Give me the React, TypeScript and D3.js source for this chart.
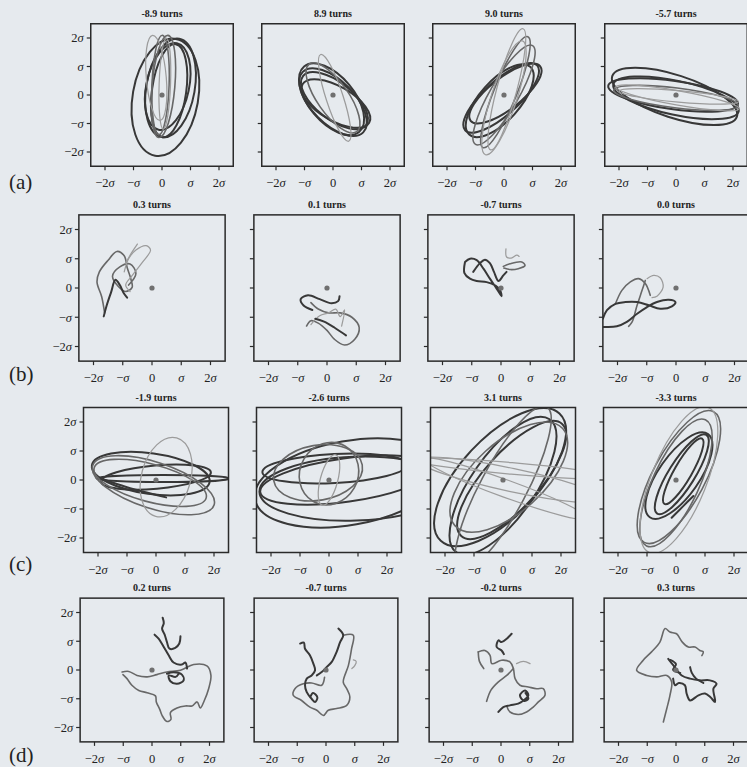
import React from "react";
import * as d3 from "d3";

// ---------- data ----------
const titles = [
  "-8.9 turns", "8.9 turns", "9.0 turns", "-5.7 turns",
  "0.3 turns", "0.1 turns", "-0.7 turns", "0.0 turns",
  "-1.9 turns", "-2.6 turns", "3.1 turns", "-3.3 turns",
  "0.2 turns", "-0.7 turns", "-0.2 turns", "0.3 turns",
];
const rowLabels = ["(a)", "(b)", "(c)", "(d)"];
const tickValues = [-2, -1, 0, 1, 2];
const tickPrefix = ["\u22122", "\u2212", "0", "", "2"];
const tickSigma = [true, true, false, true, true];

// ellipses: [cx, cy, rx, ry, angleDeg, shade]
type Ell = [number, number, number, number, number, string];
const ellA1: Ell[] = [
  [0.12, -0.08, 2.08, 1.15, 80, "d"],
  [0.3, 0.25, 1.75, 0.85, 80, "d"],
  [0.25, 0.15, 1.65, 0.6, 82, "d"],
  [0.2, 0.3, 1.55, 0.75, 78, "d"],
  [0.05, 0.3, 1.8, 0.4, 85, "m"],
  [-0.05, 0.35, 1.75, 0.3, 88, "m"],
  [-0.2, 0.6, 1.5, 0.35, 95, "l"],
  [0.1, 0.4, 1.6, 0.2, 88, "l"],
];
const ellA2: Ell[] = [
  [0, -0.25, 1.5, 0.75, -45, "d"],
  [0.05, -0.2, 1.4, 0.65, -38, "d"],
  [0.1, -0.3, 1.35, 0.6, -30, "d"],
  [-0.05, -0.15, 1.5, 0.8, -50, "d"],
  [0, -0.1, 1.45, 0.55, -55, "m"],
  [0.06, -0.1, 1.6, 0.3, -72, "l"],
];
const ellA3: Ell[] = [
  [-0.1, -0.1, 1.7, 0.6, 42, "d"],
  [0.05, 0.05, 1.55, 0.55, 38, "d"],
  [-0.15, -0.2, 1.6, 0.7, 48, "d"],
  [0, 0, 2.0, 0.5, 60, "m"],
  [0.05, 0.1, 2.1, 0.4, 68, "m"],
  [0.1, 0.2, 2.2, 0.35, 75, "l"],
  [0, -0.1, 2.1, 0.45, 72, "l"],
];
const ellA4: Ell[] = [
  [-0.05, -0.05, 2.3, 0.75, -18, "d"],
  [0, -0.1, 2.25, 0.6, -12, "d"],
  [-0.1, 0, 2.3, 0.5, -8, "d"],
  [0, -0.1, 2.2, 0.35, -7, "m"],
  [0.1, -0.05, 2.1, 0.2, -5, "l"],
  [0.05, -0.1, 2.2, 0.25, -10, "l"],
];
const ellC1: Ell[] = [
  [-0.18, 0.22, 2.05, 0.7, -8, "d"],
  [0.25, 0.05, 2.3, 0.12, 0, "d"],
  [0, 0.1, 1.9, 0.4, 5, "d"],
  [-0.09, -0.18, 2.2, 0.8, -18, "m"],
  [-0.2, -0.1, 2.0, 0.65, -15, "m"],
  [0.35, 0.1, 1.4, 0.85, 75, "l"],
];
const ellC2: Ell[] = [
  [0.7, -0.1, 3.3, 1.45, 10, "d"],
  [0.9, -0.3, 3.3, 1.1, 2, "d"],
  [0.6, 0, 3.0, 0.75, 8, "d"],
  [0.2, 0.4, 2.5, 0.5, 3, "d"],
  [-0.38, 0.25, 1.55, 0.95, 10, "m"],
  [0, 0.22, 1.1, 1.0, 60, "m"],
  [0, 0, 0.9, 0.3, 75, "l"],
];
const ellC3: Ell[] = [
  [-0.1, 0.1, 3.0, 1.35, 47, "d"],
  [0.3, 0, 2.6, 0.95, 48, "d"],
  [0, -0.2, 2.8, 1.1, 55, "d"],
  [0.2, 0.1, 2.5, 1.2, 42, "m"],
  [0, -0.3, 3.2, 0.8, 62, "m"],
  [0.3, 0, 3.3, 0.4, -12, "l"],
  [0.1, -0.3, 3.0, 0.3, -20, "l"],
  [0.3, 0.4, 3.5, 0.2, -5, "l"],
];
const ellC4: Ell[] = [
  [0.1, 0.15, 1.75, 0.7, 55, "d"],
  [0.2, 0.2, 1.6, 0.45, 58, "d"],
  [0.25, 0.3, 1.3, 0.3, 60, "d"],
  [0.1, 0.1, 2.55, 0.9, 62, "m"],
  [0, -0.1, 2.4, 0.8, 65, "m"],
  [0.1, 0, 2.7, 0.95, 68, "l"],
];

// paths: { s: shade, p: points in sigma units }
type Trace = { s: string; p: [number, number][] };
const pathB1: Trace[] = [
  { s: "m", p: [[-1.62, -0.85], [-1.72, -0.3], [-1.88, 0.2], [-1.8, 0.55], [-1.5, 0.95], [-1.2, 1.25], [-0.95, 1.1], [-0.85, 0.7], [-0.72, 0.3], [-0.68, 0.02], [-0.9, -0.12], [-1.15, 0.05], [-1.35, 0.4], [-1.1, 0.72], [-0.75, 0.82], [-0.55, 0.5], [-0.8, 0.1]] },
  { s: "l", p: [[-0.95, 0.55], [-0.8, 1.0], [-0.55, 1.3], [-0.2, 1.45], [-0.05, 1.3], [-0.35, 0.85], [-0.7, 0.4], [-0.9, 0.1], [-0.75, -0.12]] },
  { s: "l", p: [[-0.9, 0.85], [-0.7, 1.2], [-0.5, 1.5]] },
  { s: "d", p: [[-1.65, -0.97], [-1.55, -0.6], [-1.4, -0.15], [-1.25, 0.28], [-1.1, 0.1], [-0.98, -0.15], [-0.85, -0.33]] },
];
const pathB2: Trace[] = [
  { s: "m", p: [[-0.55, -0.5], [-0.3, -0.72], [0.05, -0.85], [0.45, -0.85], [0.85, -1.0], [1.1, -1.35], [0.95, -1.75], [0.6, -1.95], [0.25, -1.75], [0, -1.45], [-0.3, -1.2], [-0.55, -1.12], [-0.7, -1.3]] },
  { s: "l", p: [[-0.55, -1.25], [-0.25, -0.95], [0.05, -0.85], [0.3, -0.72], [0.45, -0.98], [0.6, -0.75], [0.5, -1.3]] },
  { s: "d", p: [[0.43, -0.28], [0.38, -0.45], [0.15, -0.52], [-0.25, -0.38], [-0.65, -0.25], [-0.9, -0.38], [-0.8, -0.6], [-0.5, -0.75]] },
  { s: "d", p: [[-0.4, -1.05], [-0.1, -1.15], [0.25, -1.35], [0.65, -1.62]] },
];
const pathB3: Trace[] = [
  { s: "l", p: [[0.17, 1.34], [0.19, 1.06], [0.35, 1.02], [0.54, 1.12], [0.62, 1.08]] },
  { s: "m", p: [[0.08, 0.74], [0.31, 0.83], [0.71, 0.89], [0.82, 0.77], [0.59, 0.66], [0.31, 0.63], [0.1, 0.68]] },
  { s: "d", p: [[-1.23, 0.89], [-1.06, 1.0], [-0.83, 0.95], [-0.6, 0.66], [-0.38, 0.32], [-0.15, -0.02], [0.02, -0.28], [-0.03, -0.08], [-0.2, 0.09], [-0.49, 0.2], [-0.83, 0.24], [-1.06, 0.32], [-1.25, 0.51], [-1.23, 0.89]] },
  { s: "d", p: [[-0.95, 0.55], [-0.72, 0.85], [-0.55, 0.97], [-0.38, 0.85], [-0.24, 0.55], [-0.09, 0.24], [0.08, 0.43], [0.19, 0.55]] },
];
const pathB4: Trace[] = [
  { s: "l", p: [[-0.99, 0.32], [-0.76, 0.43], [-0.54, 0.35], [-0.44, 0.03], [-0.65, -0.28], [-0.82, -0.33]] },
  { s: "m", p: [[-2.07, -0.54], [-1.85, -0.08], [-1.56, 0.21], [-1.28, 0.32], [-1.05, 0.15], [-0.88, -0.25]] },
  { s: "m", p: [[-1.05, 0.26], [-1.16, -0.08], [-1.33, -0.59], [-1.5, -1.16], [-1.62, -1.31]] },
  { s: "d", p: [[-2.47, -1.33], [-2.02, -1.31], [-1.68, -1.16], [-1.33, -0.88], [-0.99, -0.65], [-0.65, -0.48], [-0.25, -0.4], [-0.02, -0.48], [-0.14, -0.63], [-0.54, -0.71], [-0.93, -0.59], [-1.33, -0.48], [-1.73, -0.48], [-2.07, -0.54], [-2.36, -0.76], [-2.5, -1.05]] },
];
const pathC1: Trace[] = [{ s: "d", p: [[-1.9, 0.05], [-1.0, -0.25], [0.35, -0.6]] }];
const pathC4: Trace[] = [{ s: "d", p: [[-0.15, -1.3], [0.25, -0.9], [0.6, -0.55]] }];
const pathD1: Trace[] = [
  { s: "m", p: [[-1.04, -0.07], [-0.81, -0.05], [-0.52, -0.19], [-0.17, -0.24], [0.17, -0.16], [0.52, -0.07], [0.99, -0.01], [1.45, 0.19], [1.91, 0.14], [2.05, -0.19], [1.97, -0.65], [1.82, -1.06], [1.68, -1.32], [1.57, -1.11], [1.39, -1.25], [1.16, -1.25], [0.87, -1.32], [0.64, -1.48], [0.66, -1.72], [0.52, -1.79], [0.35, -1.58], [0.27, -1.37], [0.15, -1.11], [0.12, -0.9], [-0.17, -0.79], [-0.46, -0.71], [-0.7, -0.53], [-0.87, -0.3], [-1.01, -0.16]] },
  { s: "d", p: [[0.99, 1.17], [0.95, 0.92], [0.81, 0.77], [0.61, 0.74], [0.52, 0.97], [0.44, 1.23], [0.35, 1.44], [0.41, 1.63], [0.37, 1.82]] },
  { s: "d", p: [[0.09, 1.23], [0.23, 1.09], [0.41, 0.8], [0.58, 0.51], [0.75, 0.26], [1.04, 0.19], [1.16, 0.26], [1.22, 0.05]] },
  { s: "d", p: [[0.52, -0.13], [0.75, -0.08], [1.04, -0.16], [1.1, -0.36], [0.87, -0.48], [0.64, -0.39], [0.58, -0.19], [0.82, -0.24], [0.93, -0.13]] },
];
const pathD2: Trace[] = [
  { s: "l", p: [[0.95, 0.35], [1.05, 0.3], [1.0, 0.15], [0.9, 0.05]] },
  { s: "m", p: [[0.6, 1.21], [0.95, 1.21], [0.89, 0.74], [0.78, 0.16], [0.6, -0.42], [0.72, -0.65], [0.83, -0.94], [0.72, -1.23], [0.37, -1.34], [0.08, -1.4], [-0.09, -1.58], [-0.32, -1.4], [-0.56, -1.29], [-0.85, -1.06], [-1.14, -0.88], [-1.08, -0.65], [-0.79, -0.48], [-0.5, -0.45], [-0.15, -0.53], [-0.05, -0.25]] },
  { s: "d", p: [[-0.9, 0.92], [-0.77, 0.95], [-0.73, 0.74], [-0.56, 0.51], [-0.44, 0.22], [-0.38, -0.01], [-0.5, -0.19], [-0.67, -0.3], [-0.73, -0.53], [-0.67, -0.77], [-0.5, -1.0], [-0.38, -1.11], [-0.3, -0.95], [-0.45, -0.8], [-0.55, -0.95]] },
  { s: "d", p: [[0.43, 1.44], [0.6, 1.21], [0.49, 0.97], [0.37, 0.63], [0.2, 0.28], [0.02, 0.1], [-0.15, -0.07], [-0.32, -0.19]] },
];
const pathD3: Trace[] = [
  { s: "l", p: [[0.54, 0.22], [0.78, 0.3], [1.01, 0.22]] },
  { s: "m", p: [[-0.79, 0.63], [-0.56, 0.68], [-0.38, 0.51], [-0.32, 0.22], [0.02, 0.34], [0.31, 0.28], [0.43, 0.05], [0.49, -0.3], [0.66, -0.53], [0.95, -0.59], [1.24, -0.65], [1.47, -0.65], [1.53, -0.88], [1.3, -1.11], [1.12, -1.29], [0.89, -1.46], [0.6, -1.55], [0.31, -1.46], [0.2, -1.25]] },
  { s: "m", p: [[-0.5, -1.09], [-0.35, -0.7], [-0.1, -0.42], [0.2, -0.19], [0.43, 0.05]] },
  { s: "m", p: [[-0.79, 0.63], [-0.75, 0.3], [-0.6, 0.05]] },
  { s: "d", p: [[0.37, 1.26], [0.2, 1.09], [0.02, 0.97], [-0.09, 1.03], [-0.15, 0.8], [0.02, 0.68], [0.1, 0.55]] },
  { s: "d", p: [[-0.09, -1.46], [0.08, -1.29], [0.31, -1.23], [0.6, -1.17], [0.78, -1.06], [0.95, -0.88], [0.84, -0.71], [0.66, -0.88], [0.8, -1.08], [0.95, -1.0], [0.85, -0.8]] },
];
const pathD4: Trace[] = [
  { s: "m", p: [[-0.44, -1.81], [-0.32, -1.34], [-0.21, -0.88], [-0.15, -0.42], [-0.32, -0.19], [-0.67, -0.24], [-1.02, -0.19], [-1.37, -0.01], [-1.14, 0.34], [-0.85, 0.63], [-0.56, 0.97], [-0.38, 1.44], [-0.21, 1.32], [0.02, 1.26], [0.22, 0.97], [0.43, 0.8], [0.66, 0.8], [0.83, 0.68], [0.95, 0.63], [0.9, 0.5]] },
  { s: "d", p: [[-0.27, 0.39], [-0.09, 0.16], [0.2, -0.19], [0.49, -0.3], [0.83, -0.36], [1.18, -0.36], [1.41, -0.48], [1.3, -0.65], [1.36, -1.11], [1.2, -0.95], [1.01, -0.82], [0.78, -0.88], [0.49, -1.06], [0.37, -0.82], [0.31, -0.53], [0.1, -0.45], [-0.03, -0.53], [-0.1, -0.3]] },
  { s: "d", p: [[0.49, 0.1], [0.55, -0.1], [0.7, -0.3], [0.95, -0.45]] },
  { s: "d", p: [[-0.2, 0.35], [0, 0.2], [-0.1, 0], [0.15, -0.1]] },
];

const panelEllipses: Ell[][] = [
  ellA1, ellA2, ellA3, ellA4,
  [], [], [], [],
  ellC1, ellC2, ellC3, ellC4,
  [], [], [], [],
];
const panelPaths: Trace[][] = [
  [], [], [], [],
  pathB1, pathB2, pathB3, pathB4,
  pathC1, [], [], pathC4,
  pathD1, pathD2, pathD3, pathD4,
];

// ---------- layout / style ----------
const W = 747, H = 767;
// panel centres per row (the scanned figure is slightly skewed row to row)
const colXByRow = [
  [162, 333, 504, 676],
  [152, 327, 501, 676],
  [156, 329, 503, 676],
  [152, 326, 501, 676],
];
const rowY = [95, 288, 480, 670];
const sigmaPx = [28.5, 29.25, 29, 28.75];
const labelY = [189, 381, 571, 762];
const BG = "#e6eaee";
const shadeColor: Record<string, string> = { d: "#383838", m: "#686868", l: "#9c9c9c" };
const shadeWidth: Record<string, number> = { d: 2, m: 1.6, l: 1.25 };
const FONT = "'Liberation Serif', 'DejaVu Serif', serif";

function Panel({ idx }: { idx: number }) {
  const r = Math.floor(idx / 4), c = idx % 4;
  const cx = colXByRow[r][c], cy = rowY[r];
  const half = 2.5 * sigmaPx[r];
  const x = d3.scaleLinear().domain([-2.5, 2.5]).range([cx - half, cx + half]);
  const y = d3.scaleLinear().domain([-2.5, 2.5]).range([cy + half, cy - half]);
  const line = d3.line<[number, number]>().x((d) => x(d[0])).y((d) => y(d[1])).curve(d3.curveCatmullRom.alpha(0.5));
  const clipId = `clip-${idx}`;
  const left = x(-2.5), right = x(2.5), top = y(2.5), bottom = y(-2.5);
  return (
    <g>
      <defs>
        <clipPath id={clipId}>
          <rect x={left} y={top} width={right - left} height={bottom - top} />
        </clipPath>
      </defs>
      <text x={cx} y={top - 7} textAnchor="middle" fontFamily={FONT} fontWeight="bold" fontSize={10} fill="#222">
        {titles[idx]}
      </text>
      <g clipPath={`url(#${clipId})`}>
        {panelEllipses[idx].map((e, i) => {
          const ex = x(e[0]), ey = y(e[1]);
          return (
            <ellipse key={"e" + i} cx={ex} cy={ey} rx={x(e[2]) - x(0)} ry={y(0) - y(e[3])}
              transform={`rotate(${-e[4]} ${ex} ${ey})`} fill="none"
              stroke={shadeColor[e[5]]} strokeWidth={shadeWidth[e[5]]} />
          );
        })}
        {panelPaths[idx].map((t, i) => (
          <path key={"p" + i} d={line(t.p) || ""} fill="none" stroke={shadeColor[t.s]}
            strokeWidth={shadeWidth[t.s]} strokeLinejoin="round" strokeLinecap="round" />
        ))}
        <circle cx={x(0)} cy={y(0)} r={2.6} fill="#707070" />
      </g>
      <rect x={left} y={top} width={right - left} height={bottom - top} fill="none" stroke="#2a2a2a" strokeWidth={1.5} />
      {tickValues.map((v, i) => (
        <g key={"xt" + i}>
          <line x1={x(v)} x2={x(v)} y1={bottom} y2={bottom + 4} stroke="#2a2a2a" strokeWidth={1.2} />
          <text x={x(v)} y={bottom + 21} textAnchor="middle" fontFamily={FONT} fontSize={12.5} fill="#222">
            {tickPrefix[i]}
            {tickSigma[i] ? <tspan fontStyle="italic">σ</tspan> : null}
          </text>
        </g>
      ))}
      {tickValues.map((v, i) => (
        <g key={"yt" + i}>
          <line x1={left - 4} x2={left} y1={y(v)} y2={y(v)} stroke="#2a2a2a" strokeWidth={1.2} />
          {c === 0 ? (
            <text x={left - 7} y={y(v)} dy="0.35em" textAnchor="end" fontFamily={FONT} fontSize={12.5} fill="#222">
              {tickPrefix[i]}
              {tickSigma[i] ? <tspan fontStyle="italic">σ</tspan> : null}
            </text>
          ) : null}
        </g>
      ))}
    </g>
  );
}

export default function App() {
  return (
    <svg width={W} height={H} style={{ position: "absolute", left: 0, top: 0, display: "block" }}>
      <rect x={0} y={0} width={W} height={H} fill={BG} />
      {titles.map((_, i) => (
        <Panel key={i} idx={i} />
      ))}
      {rowLabels.map((l, i) => (
        <text key={l} x={9} y={labelY[i]} fontFamily={FONT} fontSize={21} fill="#222">
          {l}
        </text>
      ))}
    </svg>
  );
}
